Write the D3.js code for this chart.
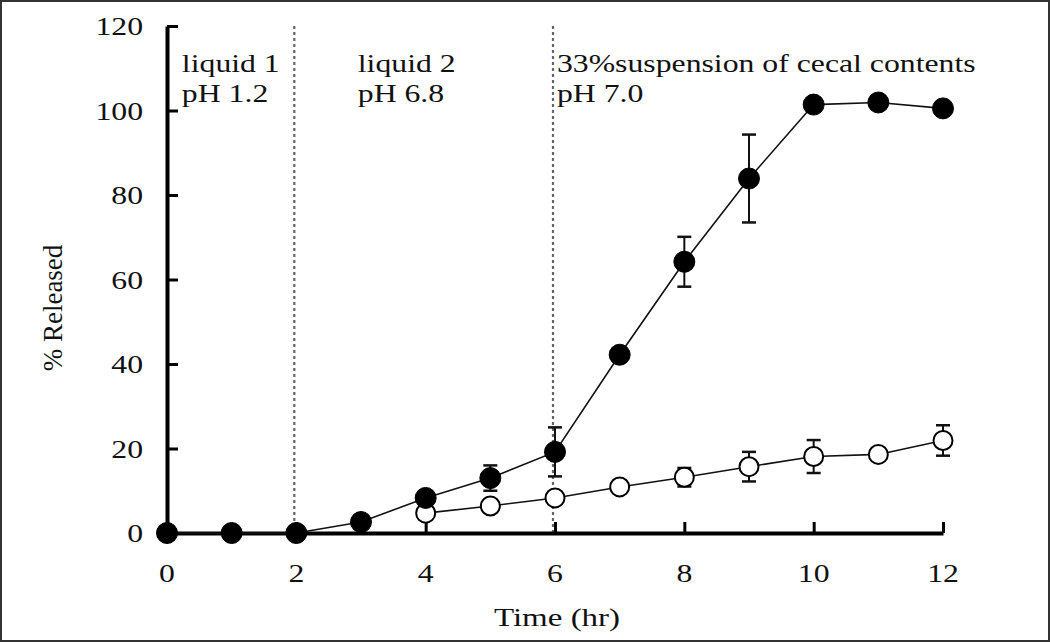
<!DOCTYPE html>
<html lang="en">
<head>
<meta charset="UTF-8">
<title>% Released vs Time</title>
<script src="https://d3js.org/d3.v7.min.js"></script>
<style>
  html, body { margin: 0; padding: 0; background: #fff; }
  svg { display: block; }
  text { font-family: "Liberation Serif", "Times New Roman", serif; fill: #111; }
</style>
</head>
<body>
<div id="chart"></div>
<script>
const width = 1050;
const height = 642;

// data
const times = [0, 1, 2, 3, 4, 5, 6, 7, 8, 9, 10, 11, 12];
const filledVals = [0, 0, 0, 2.6, 8.3, 13, 19.2, 42.2, 64.2, 83.9, 101.4, 101.9, 100.5];
const filledErr  = [0, 0, 0, 0, 0, 3, 5.8, 0, 5.9, 10.4, 0, 0, 0];
const openTimes = [4, 5, 6, 7, 8, 9, 10, 11, 12];
const openVals  = [4.7, 6.4, 8.3, 10.9, 13.2, 15.7, 18.1, 18.6, 21.9];
const openErr   = [0, 0, 0, 0, 2.2, 3.5, 3.9, 0, 3.6];
const xTicks = [0, 2, 4, 6, 8, 10, 12];
const yTicks = [0, 20, 40, 60, 80, 100, 120];
const phaseLines = [2, 6];
const phaseLabels = [
  { t: 0.23, lines: ['liquid 1', 'pH 1.2'] },
  { t: 2.95, lines: ['liquid 2', 'pH 6.8'] },
  { t: 6.03, lines: ['33%suspension of cecal contents', 'pH 7.0'] }
];

const x = d3.scaleLinear().domain([0, 12]).range([167, 943]);
const y = d3.scaleLinear().domain([0, 120]).range([533, 26]);

// the scan is stretched sideways, so text is widened a bit
const stretch = 1.27;

const svg = d3.select('#chart').append('svg')
  .attr('width', width).attr('height', height);

function label(px, py, str, size, anchor) {
  return svg.append('text')
    .attr('transform', `translate(${px},${py}) scale(${stretch},1)`)
    .attr('text-anchor', anchor || 'start')
    .attr('font-size', size)
    .text(str);
}

// frame
svg.append('rect')
  .attr('x', 1).attr('y', 1).attr('width', width - 2).attr('height', height - 2)
  .attr('fill', '#fff').attr('stroke', '#333').attr('stroke-width', 2);

// phase separators
svg.selectAll('.phase')
  .data(phaseLines)
  .enter().append('line')
  .attr('x1', d => x(d) - 2).attr('x2', d => x(d) - 2)
  .attr('y1', y(120)).attr('y2', y(0))
  .attr('stroke', '#666').attr('stroke-width', 2.2)
  .attr('stroke-dasharray', '3,3');

// phase labels
phaseLabels.forEach(p => {
  p.lines.forEach((l, i) => label(x(p.t), 72 + i * 30, l, 25));
});

// axes
const xAxis = svg.append('g')
  .attr('transform', `translate(0,${y(0)})`)
  .call(d3.axisTop(x).tickValues(xTicks).tickSize(11).tickSizeOuter(0).tickFormat(''));
xAxis.select('.domain').attr('stroke', '#000').attr('stroke-width', 4);
xAxis.selectAll('.tick line').attr('stroke', '#000').attr('stroke-width', 3);

const yAxis = svg.append('g')
  .attr('transform', `translate(${x(0)},0)`)
  .call(d3.axisRight(y).tickValues(yTicks).tickSize(11).tickSizeOuter(0).tickFormat(''));
yAxis.select('.domain').attr('stroke', '#000').attr('stroke-width', 4);
yAxis.selectAll('.tick line').attr('stroke', '#000').attr('stroke-width', 3);

xTicks.forEach(d => label(x(d), 582, d, 25, 'middle'));
yTicks.forEach(d => label(143, y(d) + 9, d, 25, 'end'));

label(557, 626, 'Time (hr)', 26, 'middle');

svg.append('text')
  .attr('transform', 'translate(62,308) rotate(-90)')
  .attr('text-anchor', 'middle').attr('font-size', 27)
  .text('% Released');

const filled = times.map((t, i) => ({ t, v: filledVals[i], e: filledErr[i] }));
const open = openTimes.map((t, i) => ({ t, v: openVals[i], e: openErr[i] }));

const line = d3.line().x(d => x(d.t)).y(d => y(d.v));

function drawSeries(data, fill) {
  svg.append('path')
    .datum(data)
    .attr('d', line)
    .attr('fill', 'none').attr('stroke', '#111').attr('stroke-width', 1.6);

  const eb = svg.selectAll(null).data(data.filter(d => d.e > 0)).enter().append('g');
  eb.append('line')
    .attr('x1', d => x(d.t)).attr('x2', d => x(d.t))
    .attr('y1', d => y(d.v + d.e)).attr('y2', d => y(d.v - d.e))
    .attr('stroke', '#111').attr('stroke-width', 2);
  ['+', '-'].forEach(s => {
    eb.append('line')
      .attr('x1', d => x(d.t) - 7).attr('x2', d => x(d.t) + 7)
      .attr('y1', d => y(s === '+' ? d.v + d.e : d.v - d.e))
      .attr('y2', d => y(s === '+' ? d.v + d.e : d.v - d.e))
      .attr('stroke', '#111').attr('stroke-width', 2.5);
  });

  svg.selectAll(null).data(data).enter().append('circle')
    .attr('cx', d => x(d.t)).attr('cy', d => y(d.v))
    .attr('r', fill ? 10.5 : 9.5)
    .attr('fill', fill ? '#000' : '#fff')
    .attr('stroke', '#000').attr('stroke-width', fill ? 1 : 2);
}

drawSeries(open, false);
drawSeries(filled, true);
</script>
</body>
</html>
